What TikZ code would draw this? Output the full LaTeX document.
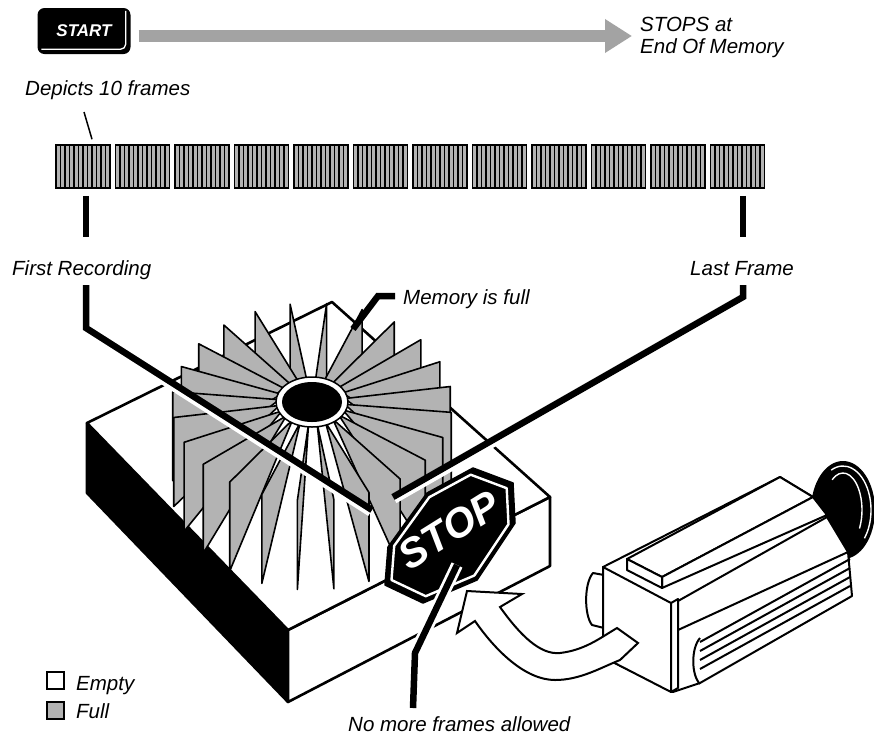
\documentclass[tikz,border=0pt]{standalone}
\usepackage{fontspec}
\setmainfont{Liberation Sans}
\usetikzlibrary{arrows.meta,calc}
\definecolor{fingray}{HTML}{B3B3B3}
\definecolor{bargray}{HTML}{A3A3A3}
\tikzset{
  lbl/.style={anchor=base west, inner sep=0pt, font=\fontsize{20.5}{24}\selectfont\itshape},
  edge/.style={line width=2.6pt, line join=round},
  fin/.style={fill=fingray, draw=black, line width=1.6pt, line join=round},
  lead/.style={line width=6.5pt},
  halo/.style={white, line width=4pt},
  camline/.style={line width=2pt, line join=round},
  frame/.style={draw, fill=fingray, line width=1.5pt, minimum width=54pt, minimum height=43pt, inner sep=0pt,
    path picture={\foreach \s in {1,...,11}
      \draw[line width=1.6pt] ([xshift=\s*4.5pt]path picture bounding box.south west) -- ([xshift=\s*4.5pt]path picture bounding box.north west);}},
  legbox/.style={draw, line width=2pt, minimum size=17pt, inner sep=0pt},
  startkey/.style={fill=black, rounded corners=7pt, minimum width=93pt, minimum height=46pt, inner sep=0pt,
    text=white, font=\fontsize{17}{20}\selectfont\bfseries\itshape}
}
\begin{document}
\begin{tikzpicture}[x=1pt,y=-1pt]
\fill[white] (0,0) rectangle (874,740);
\useasboundingbox (0,0) rectangle (874,740);

% start key and the recording arrow
\node[startkey] (start) at (84,31) {START};
\draw[white, line width=1.3pt, rounded corners=5pt] ($(start.north east)+(-5,3)$) -- ($(start.south east)+(-5,-5)$) -- ($(start.south west)+(4,-5)$);
\node[lbl] (stops) at (640,31) {STOPS at};
\node[lbl] (eom) at (640,53) {End Of Memory};
\coordinate (arrtip) at ($(stops.base west)+(-8,5)$);
\draw[bargray, line width=12pt, -{Triangle[length=27pt,width=32pt]}] ([xshift=8pt,yshift=-5pt]start.east) -- (arrtip);

% strip of frames
\foreach \i in {0,...,11} \node[frame] (f\i) at ({83+59.5*\i},166.5) {};
\node[lbl] (depicts) at (25,95) {Depicts 10 frames};
\draw[line width=1.5pt] ($(depicts.base west)+(59,17)$) -- ($(f0.north)+(9,-5)$);
\draw[lead] ([xshift=3pt,yshift=-7pt]f0.south) -- ++(0,41);
\draw[lead] ([xshift=5.5pt,yshift=-7pt]f11.south) -- ++(0,41);

% memory box
\filldraw[edge] (87,423) -- (288,630) -- (288,702) -- (87,493) -- cycle;
\filldraw[edge, fill=white] (288,630) -- (550,497) -- (550,566) -- (288,702) -- cycle;
\filldraw[edge, fill=white] (87,423) -- (332,302) -- (550,497) -- (288,630) -- cycle;

% fins, back to front
\coordinate (hub) at (312,402);
\foreach \a in {276,261,291,246,306,231,321,216,336,201,351,186,6,171,21,156,36,141,51,126,66,111,81,96}
  \filldraw[fin] ($(hub)+(\a:33 and 22)$) -- ($(hub)+(\a:140 and 99)$) -- ++(0,89) -- cycle;
\filldraw[fill=white, draw=black, line width=1.5pt] (hub) ellipse [x radius=36pt, y radius=25pt];
\fill (hub) ellipse [x radius=30pt, y radius=20pt];

% first recording / last frame
\node[lbl] (first) at (12,275) {First Recording};
\node[lbl] (last) at (690,275) {Last Frame};
\coordinate (frbend) at (86,328);
\coordinate (frend) at (372,510);
\draw[halo] ($(frbend)+(-2.7,4.2)$) -- ($(frend)+(-2.7,4.2)$);
\draw[lead] ($(first.base west)+(74,10)$) -- (frbend) -- (frend);
\coordinate (lfbend) at (743,297);
\coordinate (lfend) at (393,497);
\draw[halo] ($(lfbend)+(2.5,4.3)$) -- ($(lfend)+(2.5,4.3)$);
\draw[lead] ($(last.base west)+(53,10)$) -- (lfbend) -- (lfend);

% memory is full
\node[lbl] (full) at (403,304) {Memory is full};
\coordinate (mfbend) at (378,296);
\coordinate (mfend) at (353,329);
\draw[lead] ($(full.base west)+(-8,-8)$) -- (mfbend) -- (mfend);

% stop sign
\coordinate (sc) at (450,535);
\filldraw[line width=1.5pt, line join=round] (473,468) -- (513,483) -- (515,523) -- (477,580) -- (423,603) -- (385,585) -- (388,547) -- (427,493) -- cycle;
\draw[white, line width=2.4pt, line join=round] ($(sc)!0.9!(473,468)$) -- ($(sc)!0.9!(513,483)$) -- ($(sc)!0.9!(515,523)$) -- ($(sc)!0.9!(477,580)$) -- ($(sc)!0.9!(423,603)$) -- ($(sc)!0.9!(385,585)$) -- ($(sc)!0.9!(388,547)$) -- ($(sc)!0.9!(427,493)$) -- cycle;
\node[lbl] (nomore) at (348,731) {No more frames allowed};
\coordinate (nmtop) at ($(sc)+(7,30)$);
\coordinate (nmbend) at (415,653);
\coordinate (nmend) at ($(nomore.base west)+(65,-23)$);
\draw[white, line width=12pt] (nmtop) -- (nmbend) -- (nmend);
\draw[lead] (nmtop) -- (nmbend) -- (nmend);
\node[rotate=32, text=white, inner sep=0pt, font=\fontsize{41}{41}\selectfont\bfseries\itshape] (stoptxt) at (449,530) {STOP};

% camera
\coordinate (lens) at (843,510);
\fill (lens) ellipse [x radius=32pt, y radius=49pt];
\draw[white, line width=1.4pt] ([shift={(115:28pt and 44pt)}]lens) arc[start angle=115, end angle=-40, x radius=28pt, y radius=44pt];
\draw[white, line width=1.4pt] ([shift={(125:19pt and 37pt)}]lens) arc[start angle=125, end angle=-30, x radius=19pt, y radius=37pt];
\filldraw[fill=white, camline] (603,567) -- (780,477) -- (813,497) -- (827,517) -- (848,552) -- (852,596) -- (700,683) -- (673,692) -- (603,657) -- cycle;
\filldraw[fill=white, camline] (627,559) -- (780,477) -- (813,497) -- (662,577) -- cycle;
\filldraw[fill=white, camline] (662,577) -- (813,497) -- (827,515) -- (662,588) -- cycle;
\filldraw[fill=white, camline] (627,559) -- (662,577) -- (662,588) -- (627,570) -- cycle;
\draw[camline] (678,601) -- (827,517);
\draw[camline] (678,630) -- (848,552);
\foreach \g in {0,...,3} \draw[camline] (700,{642+9*\g}) -- ++(150,-83);
\draw[camline] (700,638) .. controls (691,648) and (691,675) .. (700,684);
\filldraw[fill=white, camline] (604,575) -- (593,573) .. controls (584,583) and (584,615) .. (592,625) -- (604,628);
\filldraw[fill=white, camline] (603,567) -- (671,603) -- (671,692) -- (603,657) -- cycle;
\filldraw[fill=white, camline] (671,603) -- (678,599) -- (678,688) -- (671,692) -- cycle;

% arrow from the camera to the sign
\filldraw[fill=white, line width=2pt] (467,591) -- (522,594) -- (500,607) .. controls (520,635) and (540,655) .. (560,653) .. controls (585,650) and (600,638) .. (617,628) -- (638,643) -- (620,660) .. controls (600,668) and (580,680) .. (555,680) .. controls (525,680) and (495,650) .. (475,621) -- (457,633) -- cycle;

% legend
\node[legbox, fill=white] (emptybox) at (55,680) {};
\node[legbox, fill=fingray] (fullbox) at (55,710) {};
\node[lbl] (emptytxt) at (76,690) {Empty};
\node[lbl] (fulltxt) at (76,718) {Full};
\end{tikzpicture}
\end{document}
